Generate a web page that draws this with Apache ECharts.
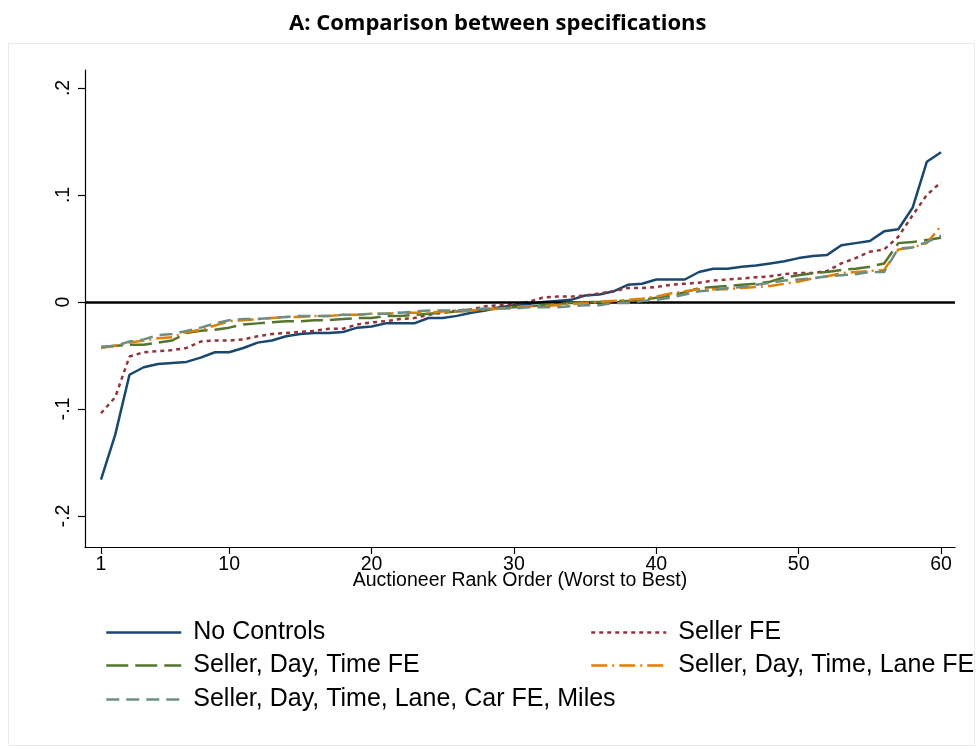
<!DOCTYPE html>
<html>
<head>
<meta charset="utf-8">
<script src="https://cdn.jsdelivr.net/npm/echarts@6/dist/echarts.min.js"></script>
<style>
  html, body { margin: 0; padding: 0; background: #ffffff; }
  #chart { width: 977px; height: 749px; }
</style>
</head>
<body>
<div id="chart"></div>
<script>
// Auctioneer rank (worst to best)
const ranks = Array.from({ length: 60 }, (_, i) => i + 1);

// Estimated auctioneer effects under each specification, ordered by rank
const noControls = [
  -0.166, -0.124, -0.068, -0.061, -0.058, -0.057, -0.056, -0.052, -0.047, -0.047,
  -0.043, -0.038, -0.036, -0.032, -0.030, -0.029, -0.029, -0.028, -0.024, -0.023,
  -0.020, -0.020, -0.020, -0.015, -0.015, -0.013, -0.010, -0.008, -0.005, -0.003,
  -0.002, 0.000, 0.001, 0.002, 0.006, 0.007, 0.010, 0.016, 0.017, 0.021,
  0.021, 0.021, 0.028, 0.031, 0.031, 0.033, 0.034, 0.036, 0.038, 0.041,
  0.043, 0.044, 0.053, 0.055, 0.057, 0.066, 0.068, 0.088, 0.131, 0.140
];
const sellerFE = [
  -0.104, -0.089, -0.051, -0.047, -0.046, -0.045, -0.043, -0.037, -0.036, -0.036,
  -0.035, -0.032, -0.030, -0.029, -0.028, -0.027, -0.025, -0.025, -0.021, -0.019,
  -0.018, -0.016, -0.015, -0.012, -0.010, -0.008, -0.007, -0.004, -0.003, -0.002,
  0.000, 0.004, 0.005, 0.005, 0.006, 0.008, 0.010, 0.013, 0.013, 0.014,
  0.016, 0.017, 0.018, 0.020, 0.021, 0.022, 0.023, 0.024, 0.026, 0.027,
  0.027, 0.029, 0.036, 0.041, 0.047, 0.049, 0.061, 0.081, 0.100, 0.112
];
const sellerDayTimeFE = [
  -0.042, -0.041, -0.040, -0.040, -0.038, -0.036, -0.029, -0.027, -0.026, -0.024,
  -0.021, -0.020, -0.019, -0.018, -0.018, -0.017, -0.017, -0.016, -0.015, -0.015,
  -0.013, -0.013, -0.012, -0.011, -0.010, -0.009, -0.008, -0.007, -0.006, -0.005,
  -0.004, -0.003, -0.002, -0.001, 0.000, 0.000, 0.001, 0.001, 0.002, 0.004,
  0.006, 0.009, 0.013, 0.014, 0.015, 0.016, 0.017, 0.019, 0.023, 0.025,
  0.027, 0.028, 0.030, 0.031, 0.033, 0.036, 0.055, 0.056, 0.058, 0.060
];
const sellerDayTimeLaneFE = [
  -0.043, -0.041, -0.038, -0.036, -0.034, -0.033, -0.028, -0.026, -0.022, -0.018,
  -0.017, -0.016, -0.015, -0.014, -0.014, -0.013, -0.013, -0.012, -0.012, -0.011,
  -0.011, -0.010, -0.010, -0.010, -0.009, -0.009, -0.008, -0.007, -0.006, -0.005,
  -0.004, -0.004, -0.003, -0.002, -0.001, 0.000, 0.001, 0.002, 0.003, 0.005,
  0.008, 0.010, 0.012, 0.012, 0.012, 0.013, 0.014, 0.015, 0.017, 0.019,
  0.022, 0.024, 0.027, 0.028, 0.029, 0.030, 0.049, 0.051, 0.055, 0.071
];
const sellerDayTimeLaneCarMiles = [
  -0.042, -0.041, -0.037, -0.035, -0.031, -0.030, -0.027, -0.024, -0.020, -0.017,
  -0.016, -0.016, -0.015, -0.014, -0.013, -0.013, -0.013, -0.012, -0.012, -0.011,
  -0.011, -0.010, -0.009, -0.008, -0.008, -0.008, -0.007, -0.006, -0.006, -0.006,
  -0.005, -0.005, -0.005, -0.004, -0.003, -0.003, -0.001, -0.001, 0.001, 0.002,
  0.004, 0.007, 0.010, 0.011, 0.013, 0.014, 0.016, 0.018, 0.020, 0.021,
  0.022, 0.024, 0.025, 0.026, 0.028, 0.028, 0.050, 0.051, 0.056, 0.062
];

// Axis ticks
const xTicks = [1, 10, 20, 30, 40, 50, 60];
const yTicks = [-0.2, -0.1, 0, 0.1, 0.2];

const seriesNames = [
  'No Controls',
  'Seller FE',
  'Seller, Day, Time FE',
  'Seller, Day, Time, Lane FE',
  'Seller, Day, Time, Lane, Car FE, Miles'
];
const seriesValues = [noControls, sellerFE, sellerDayTimeFE, sellerDayTimeLaneFE, sellerDayTimeLaneCarMiles];
const seriesColors = ['#1a476f', '#90353b', '#55752f', '#e37e00', '#6e8e84'];
const seriesDash = ['solid', [4, 4], [22, 7], [16, 5, 2, 5], [13, 7]];

// Stata-style number labels: .2, -.1, 0
function stataNum(v) {
  if (Math.abs(v) < 1e-9) return '0';
  const s = String(Math.round(Math.abs(v) * 10) / 10).replace(/^0/, '');
  return (v < 0 ? '-' : '') + s;
}

const font = 'Liberation Sans, Arial, sans-serif';

const series = seriesNames.map((name, k) => ({
  name: name,
  type: 'line',
  data: ranks.map((r, i) => [r, seriesValues[k][i]]),
  symbol: 'none',
  smooth: false,
  z: 3 + k,
  lineStyle: { color: seriesColors[k], width: 2.5, type: seriesDash[k] },
  itemStyle: { color: seriesColors[k] },
  emphasis: { disabled: true }
}));

// Horizontal reference line at zero
series.push({
  name: 'zero',
  type: 'line',
  data: [],
  silent: true,
  markLine: {
    silent: true,
    symbol: ['none', 'none'],
    label: { show: false },
    lineStyle: { color: '#000000', width: 2.5, type: 'solid' },
    data: [{ yAxis: 0 }]
  },
  z: 2
});

// One legend block per entry, laid out in two columns
const legendPos = [
  { left: 105, top: 620 },
  { left: 590, top: 620 },
  { left: 105, top: 653 },
  { left: 590, top: 653 },
  { left: 105, top: 687 }
];
const legends = seriesNames.map((name, k) => ({
  data: [name],
  left: legendPos[k].left,
  top: legendPos[k].top,
  orient: 'horizontal',
  padding: 0,
  itemWidth: 75,
  itemHeight: 28,
  selectedMode: false,
  itemStyle: { opacity: 0 },
  lineStyle: { width: 2.5, type: seriesDash[k], color: seriesColors[k] },
  textStyle: { fontFamily: font, fontSize: 25, color: '#000000', padding: [0, 0, 0, 7] }
}));

const chart = echarts.init(document.getElementById('chart'), null, { renderer: 'canvas' });

chart.setOption({
  animation: false,
  backgroundColor: '#ffffff',
  title: {
    text: 'A: Comparison between specifications',
    left: 284,
    top: 8,
    textStyle: { fontFamily: 'Open Sans, sans-serif', fontWeight: 'bold', fontSize: 22, color: '#000000' }
  },
  graphic: [
    {
      type: 'rect',
      shape: { x: 8.5, y: 43.5, width: 966, height: 702 },
      style: { fill: 'none', stroke: '#e6eaee', lineWidth: 1 },
      silent: true,
      z: -1
    }
  ],
  legend: legends,
  grid: { left: 85, right: 22, top: 70, bottom: 202, containLabel: false },
  xAxis: {
    type: 'value',
    min: -0.124,
    max: 60.98,
    name: 'Auctioneer Rank Order (Worst to Best)',
    nameLocation: 'middle',
    nameGap: 24,
    nameMoveOverlap: false,
    nameTextStyle: { fontFamily: font, fontSize: 19.5, color: '#000000' },
    axisLine: { show: true, onZero: false, lineStyle: { color: '#000000', width: 1.2 } },
    axisTick: { show: true, length: 7, customValues: xTicks, lineStyle: { color: '#000000', width: 1.2 } },
    axisLabel: { customValues: xTicks, margin: 8, fontFamily: font, fontSize: 19.5, color: '#000000' },
    splitLine: { show: false }
  },
  yAxis: {
    type: 'value',
    min: -0.229,
    max: 0.2168,
    axisLine: { show: true, onZero: false, lineStyle: { color: '#000000', width: 1.2 } },
    axisTick: { show: true, length: 7, customValues: yTicks, lineStyle: { color: '#000000', width: 1.2 } },
    axisLabel: {
      customValues: yTicks,
      rotate: 90,
      margin: 11,
      fontFamily: font,
      fontSize: 19.5,
      color: '#000000',
      formatter: stataNum
    },
    splitLine: { show: false }
  },
  series: series
});
</script>
</body>
</html>
